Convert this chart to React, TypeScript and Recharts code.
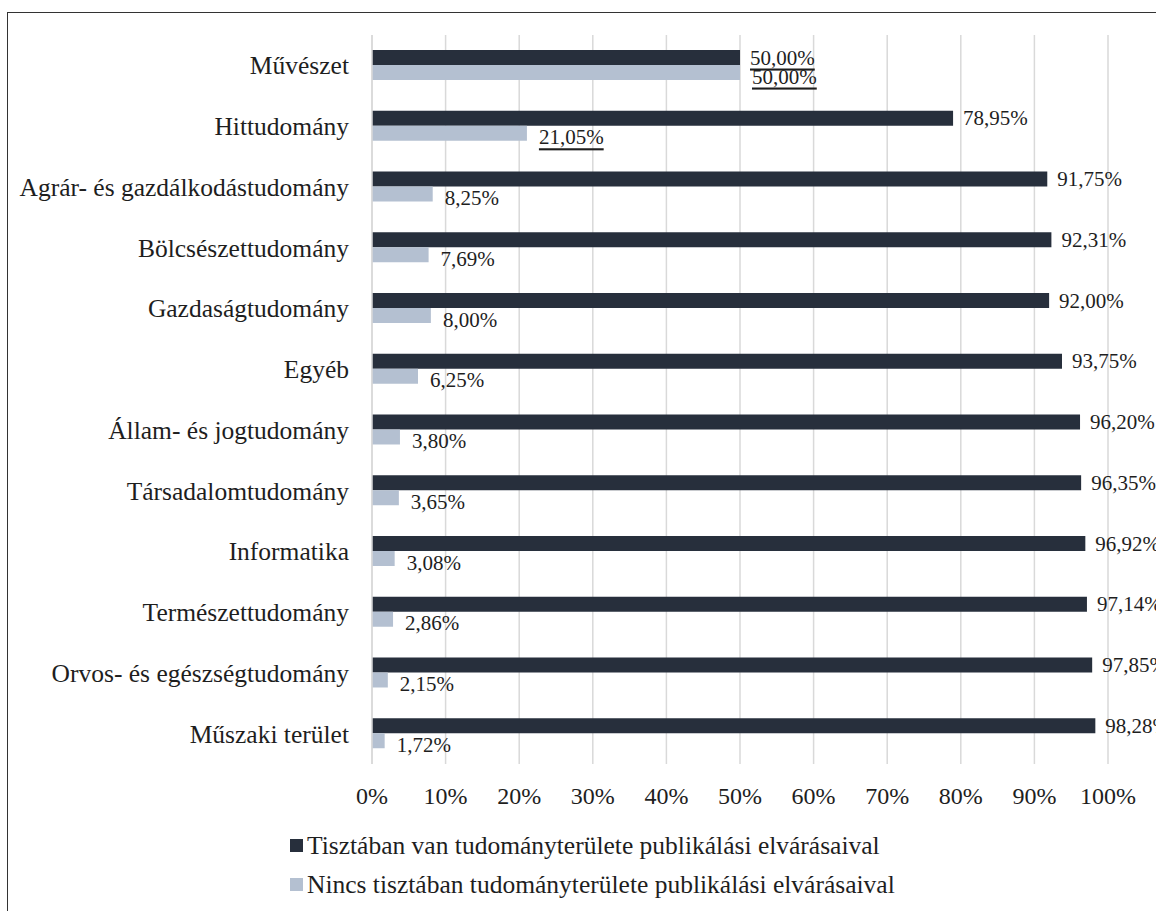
import React from "react";
import { Bar, BarChart, CartesianGrid, LabelList, Legend, XAxis, YAxis } from "recharts";

const categories = [
  "Művészet",
  "Hittudomány",
  "Agrár- és gazdálkodástudomány",
  "Bölcsészettudomány",
  "Gazdaságtudomány",
  "Egyéb",
  "Állam- és jogtudomány",
  "Társadalomtudomány",
  "Informatika",
  "Természettudomány",
  "Orvos- és egészségtudomány",
  "Műszaki terület",
];

const awareValues = [50.0, 78.95, 91.75, 92.31, 92.0, 93.75, 96.2, 96.35, 96.92, 97.14, 97.85, 98.28];
const notAwareValues = [50.0, 21.05, 8.25, 7.69, 8.0, 6.25, 3.8, 3.65, 3.08, 2.86, 2.15, 1.72];

const xTicks = [0, 10, 20, 30, 40, 50, 60, 70, 80, 90, 100];

const seriesNames = [
  "Tisztában van tudományterülete publikálási elvárásaival",
  "Nincs tisztában tudományterülete publikálási elvárásaival",
];

const chartData = categories.map((name, i) => ({
  name,
  aware: awareValues[i],
  notAware: notAwareValues[i],
}));

const FONT = '"Liberation Serif", "Times New Roman", serif';
const DARK = "#272f3c";
const LIGHT = "#b4c0d1";
const TEXT = "#1e1e1e";

const fmt = (v: number) => `${v.toFixed(2).replace(".", ",")}%`;

// labels that are underlined in the original figure
const underlined: Record<string, string[]> = {
  aware: ["Művészet"],
  notAware: ["Művészet", "Hittudomány"],
};

const makeLabel = (key: "aware" | "notAware", dx: number, dy: number) => (props: any) => {
  const { x, y, width, height, value, index } = props;
  const cat = categories[index];
  const under = underlined[key].includes(cat);
  return (
    <text
      x={Number(x) + Number(width) + dx}
      y={Number(y) + Number(height) / 2 + dy}
      fontSize={21}
      fontFamily={FONT}
      fill={TEXT}
      dominantBaseline="central"
      textDecoration={under ? "underline" : undefined}
    >
      {fmt(Number(value))}
    </text>
  );
};

const LegendContent = () => (
  <div style={{ fontFamily: FONT, fontSize: 25.5, color: TEXT }}>
    {[DARK, LIGHT].map((c, i) => (
      <div key={i} style={{ display: "flex", alignItems: "center", height: 39 }}>
        <span style={{ display: "inline-block", width: 13, height: 13, background: c, marginRight: 4 }} />
        <span>{seriesNames[i]}</span>
      </div>
    ))}
  </div>
);

export default function App() {
  return (
    <div
      style={{
        position: "absolute",
        top: 0,
        left: 0,
        width: 1156,
        height: 911,
        overflow: "hidden",
        background: "#fff",
      }}
    >
      <div
        style={{
          position: "absolute",
          left: 7,
          top: 12,
          width: 1200,
          height: 1000,
          border: "1.5px solid #333",
        }}
      />
      <div style={{ position: "absolute", left: 0, top: 0 }}>
        <BarChart
          width={1156}
          height={911}
          data={chartData}
          layout="vertical"
          margin={{ top: 35, right: 48, bottom: 107, left: 0 }}
          barGap={0}
          barSize={15}
        >
          <CartesianGrid horizontal={false} stroke="#d9d9d9" strokeWidth={1.5} />
          <XAxis
            type="number"
            domain={[0, 100]}
            ticks={xTicks}
            tickFormatter={(v) => `${v}%`}
            axisLine={false}
            tickLine={false}
            tickSize={0}
            tickMargin={23}
            height={40}
            tick={{ fontSize: 24, fontFamily: FONT, fill: TEXT }}
          />
          <YAxis
            type="category"
            dataKey="name"
            width={372}
            axisLine={{ stroke: "#d9d9d9", strokeWidth: 1.5 }}
            tickLine={false}
            tickSize={0}
            tickMargin={23}
            tick={{ fontSize: 25.5, fontFamily: FONT, fill: TEXT }}
            interval={0}
          />
          <Legend
            layout="horizontal"
            verticalAlign="middle"
            align="center"
            content={LegendContent}
            wrapperStyle={{ top: 826, left: 290, width: 820 }}
          />
          <Bar dataKey="aware" fill={DARK} isAnimationActive={false}>
            <LabelList dataKey="aware" content={makeLabel("aware", 10, 0)} />
          </Bar>
          <Bar dataKey="notAware" fill={LIGHT} isAnimationActive={false}>
            <LabelList dataKey="notAware" content={makeLabel("notAware", 12, 4)} />
          </Bar>
        </BarChart>
      </div>
    </div>
  );
}
